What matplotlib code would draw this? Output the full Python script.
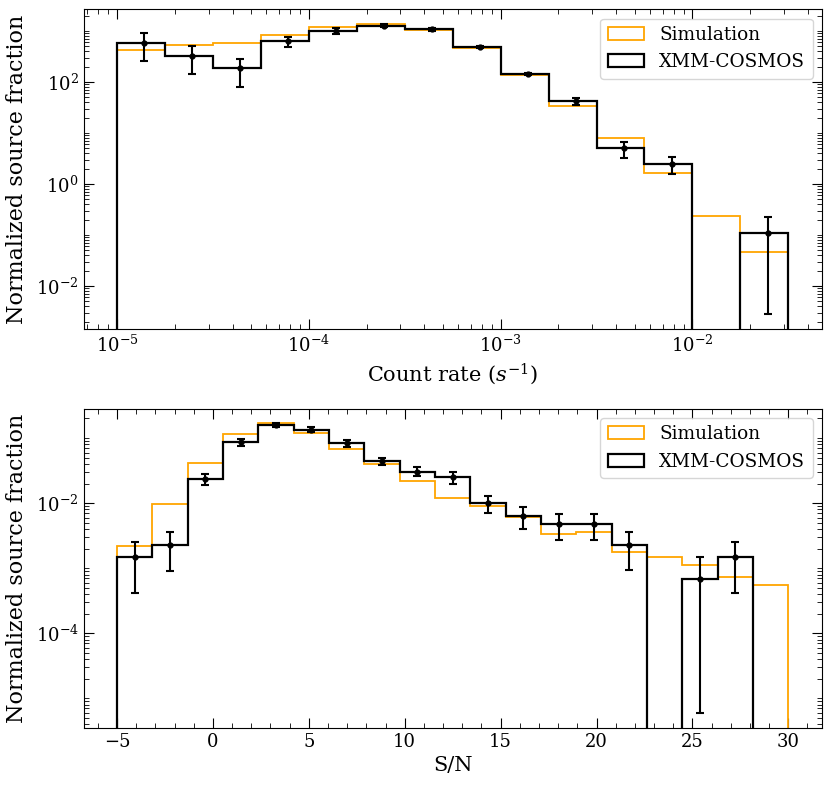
import numpy as np
import matplotlib
matplotlib.use("Agg")
import matplotlib.pyplot as plt
from matplotlib import ticker

plt.rcParams['font.family'] = 'DejaVu Serif'
plt.rcParams['mathtext.fontset'] = 'dejavuserif'

# count rate histogram (4 bins per decade, 1e-5 .. 10^-1.5)
rate_edges = np.logspace(-5, -1.5, 15)
rate_sim = [424, 531, 590, 847, 1180, 1390, 1030, 464, 137, 33.3, 8.0, 1.67, 0.239, 0.0457]
rate_obs = [590, 328, 185, 627, 1014, 1270, 1080, 492, 143.6, 43, 5.0, 2.47, 0, 0.111]
rate_lo = [258, 143, 81, 486, 885, 1180, 1010, 470, 137, 35, 3.28, 1.57, 0, 0.00286]
rate_hi = [927, 516, 286, 773, 1145, 1360, 1150, 515, 150, 48, 6.56, 3.38, 0, 0.222]
rate_yticks = [1e-2, 1e0, 1e2]

# S/N histogram (19 bins from -5 to 30)
sn_edges = np.linspace(-5, 30, 20)
sn_sim = [2.2e-3, 9.8e-3, 0.0412, 0.1135, 0.168, 0.118, 0.0684, 0.0398, 0.0220, 0.0118,
          0.0089, 6.22e-3, 3.37e-3, 3.61e-3, 1.78e-3, 1.47e-3, 1.14e-3, 7.4e-4, 5.47e-4]
sn_obs = [1.47e-3, 2.29e-3, 0.0237, 0.0855, 0.160, 0.134, 0.0826, 0.0437, 0.0303, 0.0251,
          0.0100, 6.38e-3, 4.75e-3, 4.75e-3, 2.26e-3, 0, 6.9e-4, 1.49e-3, 0]
sn_lo = [4.12e-4, 9.2e-4, 0.0191, 0.0745, 0.148, 0.123, 0.0735, 0.0385, 0.0258, 0.0200,
         0.0070, 4.07e-3, 2.75e-3, 2.75e-3, 9.3e-4, 0, 5.9e-6, 4.1e-4, 0]
sn_hi = [2.57e-3, 3.66e-3, 0.0285, 0.0975, 0.172, 0.146, 0.0925, 0.0495, 0.0355, 0.0305,
         0.0129, 8.78e-3, 6.76e-3, 6.76e-3, 3.66e-3, 0, 1.48e-3, 2.57e-3, 0]
sn_yticks = [1e-4, 1e-2]


def panel(ax, edges, sim, obs, lo, hi, yticks):
    centers = 0.5 * (edges[:-1] + edges[1:])
    ax.hist(centers, bins=edges, weights=sim, histtype='step', color='orange',
            lw=1.3, label='Simulation', log=True)
    ax.hist(centers, bins=edges, weights=obs, histtype='step', color='black',
            lw=1.6, label='XMM-COSMOS', log=True)
    obs = np.array(obs)
    m = obs > 0
    yerr = [obs[m] - np.array(lo)[m], np.array(hi)[m] - obs[m]]
    ax.errorbar(centers[m], obs[m], yerr=yerr, fmt='o', color='black', ms=3.5,
                elinewidth=1.5, capsize=2.8, capthick=1.5)
    # labelled ticks every second decade only
    ax.yaxis.set_major_locator(ticker.FixedLocator(yticks))
    ax.yaxis.set_major_formatter(ticker.LogFormatterSciNotation())
    ax.yaxis.set_minor_locator(ticker.LogLocator(base=10, subs=np.arange(1, 10), numticks=100))
    ax.yaxis.set_minor_formatter(ticker.NullFormatter())
    ax.tick_params(which='both', direction='in', top=True, right=True, labelsize=13)
    ax.tick_params(which='major', length=7)
    ax.tick_params(which='minor', length=3.5)
    ax.set_ylabel('Normalized source fraction', fontsize=16)
    ax.yaxis.set_label_coords(-0.075, 0.5)
    ax.legend(loc='upper right', fontsize=13.3)


fig = plt.figure(figsize=(8.31, 7.86), dpi=100)

ax1 = fig.add_axes([0.1005, 0.581, 0.8885, 0.407])
panel(ax1, rate_edges, rate_sim, rate_obs, rate_lo, rate_hi, rate_yticks)
ax1.set_xscale('log')
ax1.set_ylim(10 ** -2.85, 10 ** 3.425)
ax1.set_xlabel('Count rate ($s^{-1}$)', fontsize=15)

ax2 = fig.add_axes([0.1005, 0.0742, 0.8885, 0.4058])
panel(ax2, sn_edges, sn_sim, sn_obs, sn_lo, sn_hi, sn_yticks)
ax2.set_ylim(10 ** -5.45, 10 ** -0.549)
ax2.xaxis.set_minor_locator(ticker.MultipleLocator(1))
ax2.set_xlabel('S/N', fontsize=15)

fig.savefig('out.png', dpi=100)
